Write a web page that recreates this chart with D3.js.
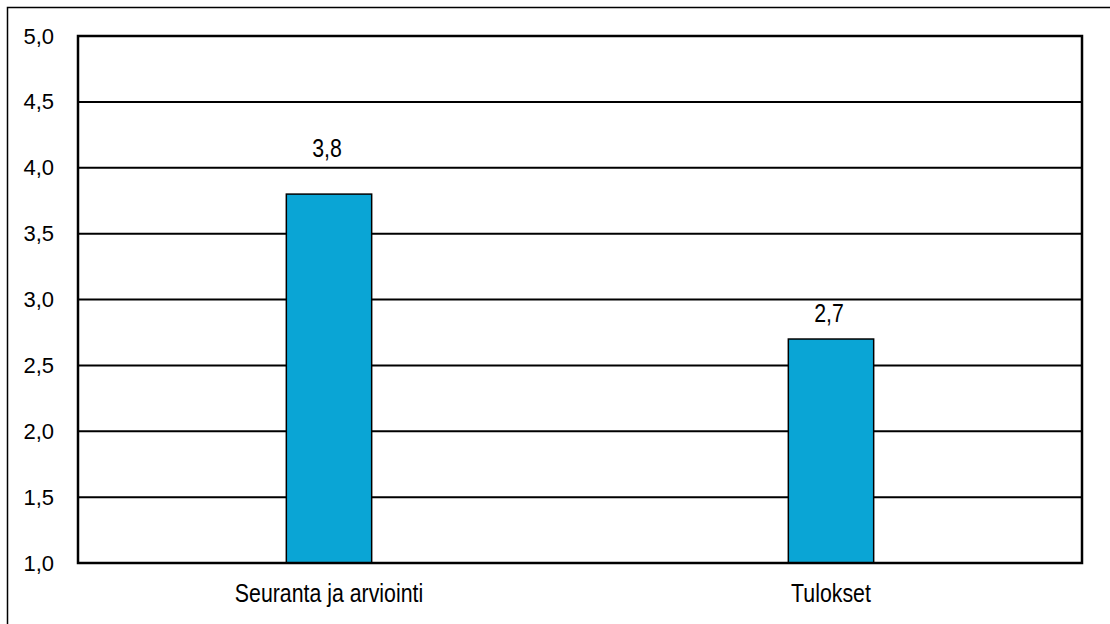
<!DOCTYPE html>
<html>
<head>
<meta charset="utf-8">
<script src="https://cdn.jsdelivr.net/npm/d3@7"></script>
<style>
  html, body { margin: 0; padding: 0; background: #fff; }
  svg { display: block; }
  text { fill: #000; }
</style>
</head>
<body>
<svg id="chart" width="1110" height="624"></svg>
<script>
// Chart data
const categories = ["Seuranta ja arviointi", "Tulokset"];
const values = [3.8, 2.7];
const yTicks = [1.0, 1.5, 2.0, 2.5, 3.0, 3.5, 4.0, 4.5, 5.0];

// Extra lift for each value label above its bar
const labelLift = [37, 17];

const W = 1110, H = 624;
const plot = { left: 78, right: 1082, top: 36, bottom: 563 };
const fmt = v => d3.format(".1f")(v).replace(".", ",");
const font = "'Liberation Sans', Arial, sans-serif";
const condense = 0.82; // horizontal squeeze for the narrow label face

const svg = d3.select("#chart");

// Outer frame (extends past the right and bottom edges)
svg.append("rect")
  .attr("x", 7.5).attr("y", 7.5)
  .attr("width", W + 20).attr("height", H + 20)
  .attr("fill", "none").attr("stroke", "#000").attr("stroke-width", 1.5);

const x = d3.scaleBand().domain(categories).range([plot.left, plot.right]);
const y = d3.scaleLinear().domain([1, 5]).range([plot.bottom, plot.top]);

// Horizontal gridlines
svg.append("g").selectAll("line").data(yTicks).join("line")
  .attr("x1", plot.left).attr("x2", plot.right)
  .attr("y1", d => y(d)).attr("y2", d => y(d))
  .attr("stroke", "#000").attr("stroke-width", 2);

// Y axis labels
const yAxis = d3.axisLeft(y).tickValues(yTicks).tickFormat(fmt).tickSize(0).tickPadding(24);
const gy = svg.append("g").attr("transform", `translate(${plot.left},0)`).call(yAxis);
gy.select(".domain").remove();
gy.selectAll("text").attr("font-size", 22).attr("font-family", font).attr("fill", "#000");

// Bars
const barW = x.step() * 0.17;
svg.append("g").selectAll("rect").data(values).join("rect")
  .attr("x", (d, i) => x(categories[i]) + x.bandwidth() / 2 - barW / 2)
  .attr("y", d => y(d))
  .attr("width", barW)
  .attr("height", d => y(1) - y(d))
  .attr("fill", "#0aa5d5")
  .attr("stroke", "#000").attr("stroke-width", 1.5);

// Value labels
svg.append("g").selectAll("text").data(values).join("text")
  .attr("transform", (d, i) =>
    `translate(${x(categories[i]) + x.bandwidth() / 2 - 2},${y(d) - labelLift[i]}) scale(${condense},1)`)
  .attr("text-anchor", "middle")
  .attr("font-family", font)
  .attr("font-size", 26)
  .text(d => fmt(d));

// Plot area border
svg.append("rect")
  .attr("x", plot.left).attr("y", plot.top)
  .attr("width", plot.right - plot.left).attr("height", plot.bottom - plot.top)
  .attr("fill", "none").attr("stroke", "#000").attr("stroke-width", 2.5);

// Category labels
const xAxis = d3.axisBottom(x).tickSize(0).tickPadding(21);
const gx = svg.append("g").attr("transform", `translate(0,${plot.bottom})`).call(xAxis);
gx.select(".domain").remove();
gx.selectAll("text")
  .attr("font-size", 26).attr("font-family", font).attr("fill", "#000")
  .attr("transform", `scale(${condense},1)`);
</script>
</body>
</html>
